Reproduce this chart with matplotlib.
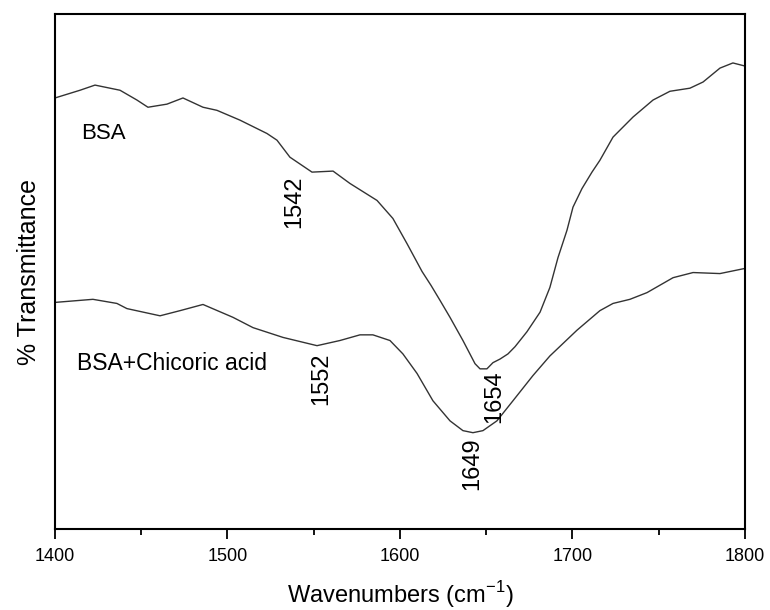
import matplotlib
matplotlib.use("Agg")
import matplotlib.pyplot as plt
from matplotlib.ticker import MultipleLocator

plt.rcParams['font.family'] = ['Liberation Sans', 'DejaVu Sans']
plt.rcParams['mathtext.fontset'] = 'custom'
plt.rcParams['mathtext.rm'] = 'Liberation Sans'

# BSA spectrum (wavenumber, % transmittance, arbitrary offset)
bsa_x = [1400.0, 1414.5, 1423.2, 1437.7, 1447.5, 1453.9, 1464.9, 1474.2, 1485.8, 1493.9,
         1507.2, 1522.9, 1528.7, 1536.2, 1549.0, 1561.2, 1571.0, 1586.7, 1595.9, 1604.1,
         1612.8, 1618.0, 1623.2, 1629.0, 1636.5, 1643.5, 1646.4, 1650.4, 1653.9, 1658.0,
         1662.6, 1666.7, 1673.6, 1681.2, 1686.9, 1691.6, 1696.8, 1700.3, 1705.5, 1711.3,
         1715.9, 1723.5, 1735.1, 1746.7, 1756.5, 1768.1, 1775.7, 1785.5, 1793.0, 1800.0]
bsa_y = [83.7, 85.2, 86.2, 85.2, 83.3, 81.9, 82.5, 83.7, 81.9, 81.3,
         79.4, 76.8, 75.5, 72.2, 69.3, 69.5, 67.1, 63.8, 60.3, 55.4,
         50.0, 47.3, 44.4, 41.1, 36.6, 32.1, 31.1, 31.1, 32.3, 33.0,
         34.0, 35.4, 38.3, 42.1, 46.9, 52.7, 58.0, 62.5, 66.1, 69.3,
         71.6, 76.1, 80.0, 83.3, 85.0, 85.6, 86.8, 89.5, 90.5, 89.9]

# BSA + chicoric acid spectrum
mix_x = [1400.0, 1422.0, 1435.9, 1441.7, 1460.9, 1472.5, 1485.8, 1503.2, 1514.8, 1532.2,
         1551.9, 1565.2, 1576.8, 1584.3, 1594.2, 1601.7, 1609.9, 1619.1, 1629.0, 1636.5,
         1642.3, 1648.1, 1656.2, 1665.5, 1677.1, 1686.9, 1702.6, 1715.9, 1723.5, 1733.3,
         1743.2, 1758.3, 1769.9, 1785.5, 1800.0]
mix_y = [44.0, 44.6, 43.8, 42.8, 41.4, 42.4, 43.6, 41.1, 39.1, 37.2,
         35.6, 36.6, 37.7, 37.7, 36.6, 34.0, 30.2, 24.9, 21.0, 19.1,
         18.7, 19.1, 21.0, 24.9, 29.8, 33.6, 38.6, 42.4, 43.8, 44.6,
         45.9, 48.8, 49.8, 49.6, 50.6]

# peak labels: text, x, y
peak_txt = ['1542', '1552', '1654', '1649']
peak_x = [1538.6, 1554.2, 1654.4, 1642.0]
peak_y = [63.6, 29.2, 25.7, 12.6]

fig = plt.figure(figsize=(7.7, 6.1), dpi=100)
ax = fig.add_axes([0.0714, 0.1328, 0.8961, 0.8442])

ax.plot(bsa_x, bsa_y, color='#333333', lw=1.0)
ax.plot(mix_x, mix_y, color='#333333', lw=1.0)

ax.text(1415, 76.8, 'BSA', fontsize=16, ha='left', va='center')
ax.text(1412.8, 32.1, 'BSA+Chicoric acid', fontsize=16.5, ha='left', va='center')
for t, x, y in zip(peak_txt, peak_x, peak_y):
    ax.text(x, y, t, fontsize=17, rotation=90, ha='center', va='center')

ax.set_xlim(1400, 1800)
ax.set_ylim(0, 100)
ax.xaxis.set_major_locator(MultipleLocator(100))
ax.xaxis.set_minor_locator(MultipleLocator(50))
ax.set_yticks([])
ax.tick_params(axis='x', which='major', direction='out', length=7, width=1.3,
               labelsize=13, pad=7)
ax.tick_params(axis='x', which='minor', direction='out', length=4.5, width=1.3)
for s in ax.spines.values():
    s.set_linewidth(1.5)

ax.set_xlabel('Wavenumbers (cm$^{-1}$)', fontsize=17, labelpad=10)
ax.set_ylabel('% Transmittance', fontsize=18, labelpad=10)

fig.savefig('out.png', dpi=100)
